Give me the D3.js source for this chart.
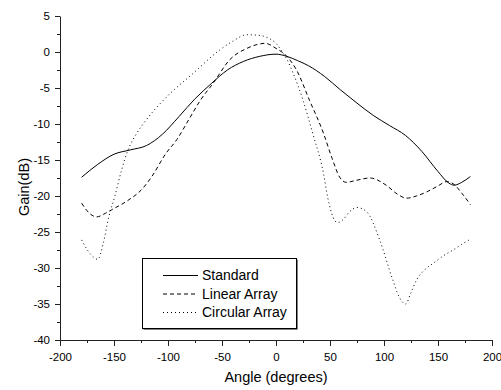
<!DOCTYPE html>
<html>
<head>
<meta charset="utf-8">
<script src="https://cdn.jsdelivr.net/npm/d3@7"></script>
<style>
body{margin:0;background:#fff;}
svg{display:block;font-family:"Liberation Sans",Arial,sans-serif;}
</style>
</head>
<body>
<div id="chart"></div>
<script>
// data
let stdAngle = [-180,-165,-150,-135,-120,-105,-90,-75,-60,-45,-30,-15,0,10,20,30,45,60,75,90,105,120,135,150,160,165,172,180];
let stdGain  = [-17.4,-15.6,-14.2,-13.6,-13.0,-11.4,-9.0,-6.5,-4.4,-2.5,-1.3,-0.6,-0.3,-0.6,-1.2,-1.9,-3.4,-5.3,-7.1,-8.8,-10.2,-11.6,-13.8,-16.6,-18.2,-18.5,-18.1,-17.3];

let linAngle = [-180,-172,-166,-158,-152,-137,-125,-115,-102,-92,-80,-70,-58,-43,-27,-10,0,10,19,31,44,52,59,65,75,87,102,112,121,130,140,150,158,165,172,180];
let linGain  = [-21.0,-22.5,-22.9,-22.4,-21.9,-20.6,-19.2,-17.3,-14.1,-12.2,-9.2,-6.7,-4.3,-1.1,0.5,1.2,0.5,-0.6,-2.5,-6.7,-11.3,-14.8,-17.4,-18.1,-17.8,-17.5,-18.5,-19.7,-20.3,-20.0,-19.4,-18.6,-18.0,-18.4,-19.6,-21.2];

let cirAngle = [-180,-171,-165,-160,-155,-149,-143,-137,-129,-120,-101,-77,-52,-40,-27,-15,-8,0,5,10,16,25,34,44,48,53,57,62,68,75,84,96,108,114,120,125,130,138,146,155,164,172,180];
let cirGain  = [-26.1,-28.2,-28.8,-26.6,-23.0,-19.9,-16.4,-13.6,-11.3,-9.4,-6.2,-3.0,0.3,1.5,2.4,2.3,2.0,1.2,0.2,-1.0,-3.0,-6.7,-11.3,-16.9,-20.3,-23.0,-23.7,-23.3,-22.2,-21.6,-22.2,-26.1,-31.6,-34.0,-35.0,-33.4,-31.7,-30.2,-29.3,-28.3,-27.5,-26.7,-26.0];

let seriesNames = ["Standard","Linear Array","Circular Array"];
let xTicks = [-200,-150,-100,-50,0,50,100,150,200];
let yTicks = [5,0,-5,-10,-15,-20,-25,-30,-35,-40];

let width = 501, height = 390;
let margin = {left:60, right:9, top:16, bottom:50};

let svg = d3.select("#chart").append("svg").attr("width",width).attr("height",height);

let x = d3.scaleLinear().domain([-200,200]).range([margin.left, width-margin.right]);
let y = d3.scaleLinear().domain([-40,5]).range([height-margin.bottom, margin.top]);

/* minor ticks */
let xMinor = d3.range(-175,200,50);
let yMinor = d3.range(-37.5,5,5);
svg.append("g").attr("transform","translate(0,"+(height-margin.bottom)+")")
  .call(d3.axisBottom(x).tickValues(xMinor).tickSize(3).tickSizeOuter(0).tickFormat(""))
  .call(g=>g.select(".domain").remove());
svg.append("g").attr("transform","translate("+margin.left+",0)")
  .call(d3.axisLeft(y).tickValues(yMinor).tickSize(3).tickSizeOuter(0).tickFormat(""))
  .call(g=>g.select(".domain").remove());

/* axes - plain hyphen for negatives like the original */
let fmt = d => String(d);
svg.append("g").attr("transform","translate(0,"+(height-margin.bottom)+")")
  .call(d3.axisBottom(x).tickValues(xTicks).tickSize(6).tickSizeOuter(0).tickPadding(7).tickFormat(fmt));
svg.append("g").attr("transform","translate("+margin.left+",0)")
  .call(d3.axisLeft(y).tickValues(yTicks).tickSize(5).tickSizeOuter(0).tickPadding(5).tickFormat(fmt));
svg.selectAll(".tick text").attr("font-size","11.5px").attr("font-family","Liberation Sans, Arial, sans-serif").attr("fill","#000");
svg.selectAll(".domain, .tick line").attr("stroke","#222");

svg.append("text").attr("x",276).attr("y",382).attr("text-anchor","middle")
  .attr("font-size","14.5px").text("Angle (degrees)");
svg.append("text").attr("transform","translate(29,187) rotate(-90)").attr("text-anchor","middle")
  .attr("font-size","14.5px").text("Gain(dB)");

/* lines */
let line = d3.line().x(d=>x(d[0])).y(d=>y(d[1])).curve(d3.curveMonotoneX);
let series = [
  {angle:stdAngle, gain:stdGain, dash:null},
  {angle:linAngle, gain:linGain, dash:"4,3"},
  {angle:cirAngle, gain:cirGain, dash:"1,3"}
];
series.forEach(s=>{
  svg.append("path").datum(s.angle.map((a,i)=>[a,s.gain[i]]))
    .attr("d",line).attr("fill","none").attr("stroke","#000").attr("stroke-width",1)
    .attr("stroke-dasharray",s.dash);
});

/* legend */
let lg = svg.append("g");
lg.append("rect").attr("x",143.5).attr("y",259.5).attr("width",154).attr("height",70).attr("fill","#000");
lg.append("rect").attr("x",142.5).attr("y",258.5).attr("width",154).attr("height",70)
  .attr("fill","#fff").attr("stroke","#000");
seriesNames.forEach((n,i)=>{
  let cy = 275 + i*18.5;
  lg.append("line").attr("x1",163).attr("x2",198).attr("y1",cy+0.5).attr("y2",cy+0.5)
    .attr("stroke","#000").attr("stroke-dasharray",series[i].dash);
  lg.append("text").attr("x",202).attr("y",cy+5).attr("font-size","14px").text(n);
});
</script>
</body>
</html>
